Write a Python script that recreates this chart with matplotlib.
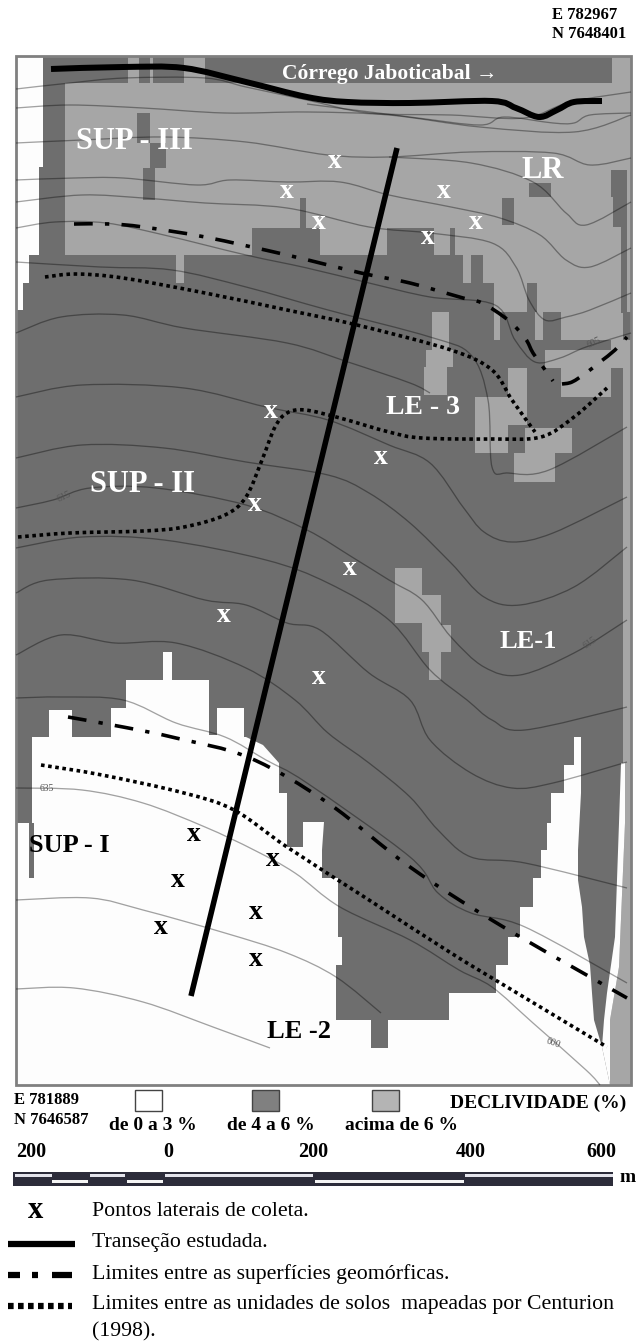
import matplotlib
matplotlib.use('Agg')
import matplotlib.pyplot as plt
from matplotlib.patches import Rectangle, Polygon, PathPatch
from matplotlib.path import Path

plt.rcParams['font.family'] = ['Liberation Serif', 'DejaVu Sans']

frame = (16, 56, 631, 1085)

light_rects = [(65, 83, 631, 255), (612, 57, 631, 83), (176, 255, 184, 283), (463, 255, 471, 283),
               (483, 255, 631, 283), (494, 283, 631, 312), (561, 312, 611, 340), (611, 312, 623, 350),
               (494, 312, 500, 340), (535, 312, 543, 340), (432, 312, 449, 350), (426, 350, 453, 367),
               (424, 367, 447, 395), (545, 350, 623, 368), (561, 368, 611, 397), (475, 397, 508, 453),
               (508, 368, 527, 425), (525, 428, 572, 453), (514, 453, 555, 482), (395, 568, 422, 623),
               (422, 595, 441, 625), (422, 625, 451, 652), (429, 652, 441, 680), (623, 340, 631, 763),
               (128, 57, 139, 83), (150, 57, 153, 83), (184, 57, 205, 83)]
dark_rects = [(137, 113, 150, 143), (150, 143, 166, 168), (143, 168, 155, 200), (300, 198, 306, 228),
              (252, 228, 320, 255), (387, 228, 434, 255), (450, 228, 455, 255), (529, 183, 551, 197),
              (502, 198, 514, 225), (611, 170, 627, 197), (613, 197, 627, 227), (621, 227, 627, 313),
              (527, 283, 537, 312), (510, 312, 535, 340), (543, 312, 560, 340), (476, 260, 482, 283)]
white_left = [(16, 57), (43, 57), (43, 167), (39, 167), (39, 255), (29, 255), (29, 283), (23, 283),
              (23, 310), (18, 310), (16, 310)]
white_low = [(16, 823), (29, 823), (29, 878), (34, 878), (34, 823), (32, 823), (32, 737), (49, 737),
             (49, 710), (72, 710), (72, 737), (111, 737), (111, 708), (126, 708), (126, 680), (163, 680),
             (163, 652), (172, 652), (172, 680), (209, 680), (209, 735), (217, 735), (217, 708), (244, 708),
             (244, 737), (246, 737), (263, 745), (279, 763), (279, 793), (287, 793), (287, 847), (303, 847),
             (303, 822), (324, 822), (322, 850), (322, 878), (338, 878), (338, 937), (342, 937), (342, 965),
             (336, 965), (336, 1020), (371, 1020), (371, 1048), (388, 1048), (388, 1020), (449, 1020),
             (449, 993), (496, 993), (496, 965), (508, 965), (508, 937), (520, 937), (520, 907), (533, 907),
             (533, 878), (541, 878), (541, 850), (547, 850), (547, 823), (551, 823), (551, 793), (564, 793),
             (564, 765), (574, 765), (574, 737), (581, 737), (581, 793), (578, 850), (578, 880), (582, 907),
             (584, 937), (590, 965), (592, 993), (594, 1020), (602, 1047), (610, 1085), (16, 1085)]
white_strip = [(621, 763), (625, 763), (625, 823), (619, 967), (610, 1020), (610, 1085), (610, 1085),
               (602, 1047), (604, 1020), (607, 993), (615, 937), (617, 880), (619, 823)]
light_right = [(625, 763), (631, 763), (631, 1085), (610, 1085), (610, 1020), (619, 967), (625, 823)]

contours = [
    [(16, 89), (70, 83), (125, 78), (205, 78), (246, 87), (307, 100), (369, 113), (451, 115), (524, 118), (570, 102), (631, 92)],
    [(16, 108), (70, 105), (143, 108), (225, 113), (307, 112), (389, 115), (480, 127), (574, 132), (631, 115)],
    [(307, 104), (410, 117), (480, 125), (504, 117), (553, 123), (574, 123), (590, 115), (631, 113)],
    [(16, 143), (82, 140), (164, 137), (246, 142), (328, 155), (389, 157), (471, 152), (553, 153), (590, 165), (631, 158)],
    [(389, 157), (471, 163), (533, 182), (566, 213), (586, 225), (631, 202)],
    [(16, 180), (74, 178), (123, 178), (197, 185), (230, 180), (287, 182), (340, 182), (389, 195), (451, 207), (500, 218), (540, 235), (566, 260), (590, 267), (631, 248)],
    [(16, 202), (82, 195), (143, 198), (205, 203), (287, 208), (369, 227), (430, 233), (492, 243), (516, 267), (529, 300), (545, 320), (566, 317), (590, 310), (631, 293)],
    [(16, 228), (55, 222), (106, 223), (164, 235), (246, 255), (307, 268), (369, 283), (430, 297), (495, 305), (515, 340), (535, 362), (560, 358), (586, 347), (631, 333)],
    [(16, 262), (100, 267), (172, 270), (246, 287), (328, 310), (430, 337), (471, 355), (488, 400), (492, 467), (508, 473), (549, 470), (627, 427)],
    [(16, 333), (61, 317), (123, 315), (184, 328), (287, 343), (348, 362), (410, 383), (430, 393)],
    [(16, 397), (82, 385), (184, 388), (266, 407), (328, 420), (389, 445), (430, 463), (463, 507), (484, 532), (512, 542), (553, 533), (627, 497)],
    [(16, 458), (82, 445), (164, 448), (246, 462), (328, 475), (369, 493), (410, 523), (451, 563), (484, 597), (520, 605), (574, 587), (627, 547)],
    [(16, 508), (53, 500), (90, 488), (156, 488), (246, 505), (307, 530), (352, 557), (389, 580), (422, 600), (451, 637), (484, 667), (520, 675), (574, 653), (627, 620)],
    [(16, 548), (82, 537), (164, 540), (266, 560), (328, 583), (389, 620), (430, 670), (467, 700), (492, 720), (525, 730), (627, 707)],
    [(16, 593), (49, 580), (131, 580), (205, 600), (246, 605), (287, 623), (320, 630), (369, 673), (410, 700), (430, 740), (471, 773), (512, 788), (553, 783), (627, 762)],
    [(16, 655), (61, 635), (115, 643), (176, 643), (246, 668), (295, 700), (328, 733), (369, 763), (410, 797), (438, 830), (471, 857), (525, 863), (627, 888)],
    [(16, 698), (61, 697), (123, 700), (176, 723), (225, 737), (266, 760), (307, 783), (410, 857), (438, 893), (471, 913), (525, 927), (627, 983)],
    [(16, 788), (82, 790), (143, 803), (205, 827), (254, 850), (295, 873), (340, 907), (410, 940), (459, 970), (492, 987), (533, 1023), (586, 1070), (600, 1085)],
    [(16, 900), (90, 898), (143, 910), (225, 933), (287, 953), (336, 977), (381, 1013)],
    [(16, 989), (74, 988), (143, 1002), (213, 1027), (270, 1048)],
]
contour_labels = [('615', 64, 497, 25), ('615', 590, 643, 35), ('635', 47, 788, 0), ('600', 553, 1043, -20), ('605', 594, 343, 25)]

river = [(51, 69), (123, 67), (184, 68), (246, 82), (307, 97), (348, 102), (410, 103), (492, 101), (516, 108), (539, 117), (557, 110), (574, 102), (602, 101)]
transect = [(397, 148), (191, 996)]
surface_upper = [(74, 224), (111, 224), (143, 227), (205, 237), (287, 255), (361, 273), (410, 283), (463, 298), (482, 303), (508, 320), (525, 338), (533, 353), (543, 367), (553, 381)]
surface_upper_b = [(562, 384), (572, 382), (586, 373), (600, 362), (615, 350), (627, 337)]
surface_lower = [(68, 717), (123, 727), (176, 738), (250, 758), (328, 803), (410, 867), (500, 925), (627, 998)]
soil_a = [(45, 277), (76, 274), (123, 278), (205, 293), (287, 310), (357, 325), (451, 350), (492, 370), (512, 400), (535, 432)]
soil_b = [(18, 537), (70, 533), (143, 531), (184, 527), (225, 515), (246, 497), (262, 460), (275, 427), (287, 413), (305, 410), (340, 418), (389, 432), (422, 438), (492, 439), (541, 437), (574, 417), (607, 388)]
soil_c = [(41, 765), (102, 775), (184, 793), (234, 810), (287, 847), (369, 900), (451, 953), (512, 990), (607, 1047)]

points_white = [(335, 162), (287, 192), (319, 223), (444, 192), (476, 223), (428, 238), (271, 412), (255, 505),
                (381, 458), (350, 569), (224, 616), (319, 678)]
points_black = [(194, 835), (178, 881), (161, 928), (273, 860), (256, 913), (256, 960)]

map_labels = [('SUP - III', 76, 141, 'white', 22), ('LR', 521, 170, 'white', 22), ('LE - 3', 386, 407, 'white', 20),
              ('SUP - II', 90, 484, 'white', 22), ('LE-1', 500, 641, 'white', 19), ('SUP - I', 29, 845, 'black', 19),
              ('LE -2', 267, 1032, 'black', 19)]
legend_boxes = [(135, '#ffffff'), (252, '#808080'), (372, '#b4b4b4')]
legend_names = [('de 0 a 3 %', 109), ('de 4 a 6 %', 227), ('acima de 6 %', 345)]
scale_labels = [('200', 31), ('0', 168), ('200', 313), ('400', 471), ('600', 601)]
scale_top = [(15, 52), (90, 125), (165, 313), (465, 613)]
scale_bottom = [(52, 88), (127, 163), (315, 464)]
key_texts = [('Pontos laterais de coleta.', 1212), ('Transeção estudada.', 1243), ('Limites entre as superfícies geomórficas.', 1274),
             ('Limites entre as unidades de solos  mapeadas por Centurion', 1305), ('(1998).', 1332)]

DARK = '#6e6e6e'
LIGHT = '#a6a6a6'
WHITE = '#fdfdfd'


def smooth(pts):
    # catmull-rom through the read points, as bezier segments
    verts = [pts[0]]
    codes = [Path.MOVETO]
    for i in range(len(pts) - 1):
        p0 = pts[max(i - 1, 0)]
        p1 = pts[i]
        p2 = pts[i + 1]
        p3 = pts[min(i + 2, len(pts) - 1)]
        c1 = (p1[0] + (p2[0] - p0[0]) / 6, p1[1] + (p2[1] - p0[1]) / 6)
        c2 = (p2[0] - (p3[0] - p1[0]) / 6, p2[1] - (p3[1] - p1[1]) / 6)
        verts += [c1, c2, p2]
        codes += [Path.CURVE4] * 3
    return Path(verts, codes)


def curve(ax, pts, lw_px, ls='-', color='black', alpha=1, z=5):
    ax.add_patch(PathPatch(smooth(pts), fill=False, edgecolor=color, lw=lw_px * 0.72, ls=ls, alpha=alpha,
                           capstyle='butt', joinstyle='round', zorder=z))


def rect(ax, x0, y0, x1, y1, color, z=1, **kw):
    ax.add_patch(Rectangle((x0, y0), x1 - x0, y1 - y0, facecolor=color, edgecolor='none', zorder=z, **kw))


fig = plt.figure(figsize=(6.38, 13.41), dpi=100)
ax = fig.add_axes([0, 0, 1, 1])
ax.set_xlim(0, 638)
ax.set_ylim(1341, 0)
ax.axis('off')

# slope classes
rect(ax, frame[0], frame[1], frame[2], frame[3], DARK, z=0)
for r in light_rects:
    rect(ax, *r, LIGHT, z=1)
for r in dark_rects:
    rect(ax, *r, DARK, z=2)
ax.add_patch(Polygon(white_left, facecolor=WHITE, edgecolor='none', zorder=3))
ax.add_patch(Polygon(white_low, facecolor=WHITE, edgecolor='none', zorder=3))
ax.add_patch(Polygon(light_right, facecolor=LIGHT, edgecolor='none', zorder=3))
ax.add_patch(Polygon(white_strip, facecolor=WHITE, edgecolor='none', zorder=3))
ax.add_patch(Rectangle((frame[0], frame[1]), frame[2] - frame[0], frame[3] - frame[1], fill=False,
                       edgecolor='#808080', lw=2, zorder=4))

for c in contours:
    curve(ax, c, 1.3, color='black', alpha=0.36, z=4)
for t, x, y, rot in contour_labels:
    ax.text(x, y, t, color='#555555', fontsize=7, rotation=rot, ha='center', va='center', zorder=4)

# limits and transect
curve(ax, river, 6)
ax.plot([p[0] for p in transect], [p[1] for p in transect], color='black', lw=4, solid_capstyle='butt', zorder=5)
dashdot = (0, (5.2, 3.4, 1.2, 3.4))
curve(ax, surface_upper, 3.6, dashdot)
curve(ax, surface_upper_b, 3.6, dashdot)
curve(ax, surface_lower, 3.6, dashdot)
dotted = (0, (1, 1))
for s in [soil_a, soil_b, soil_c]:
    curve(ax, s, 3.6, dotted)

for x, y in points_white:
    ax.text(x, y + 6, 'x', color='white', fontsize=20, fontweight='bold', ha='center', va='baseline', zorder=6)
for x, y in points_black:
    ax.text(x, y + 6, 'x', color='black', fontsize=20, fontweight='bold', ha='center', va='baseline', zorder=6)
for t, x, y, col, size in map_labels:
    ax.text(x, y, t, color=col, fontsize=size, fontweight='bold', ha='left', va='center', zorder=6)
ax.text(282, 74, 'Córrego Jaboticabal →', color='white', fontsize=15.5, fontweight='bold', ha='left', va='center', zorder=6)

# coordinates
ax.text(552, 15, 'E 782967', fontsize=12, fontweight='bold', va='center')
ax.text(552, 34, 'N 7648401', fontsize=12, fontweight='bold', va='center')
ax.text(14, 1100, 'E 781889', fontsize=12, fontweight='bold', va='center')
ax.text(14, 1120, 'N 7646587', fontsize=12, fontweight='bold', va='center')

# slope legend
for x, col in legend_boxes:
    ax.add_patch(Rectangle((x, 1090), 27, 21, facecolor=col, edgecolor='#444444', lw=1))
for t, x in legend_names:
    ax.text(x, 1125, t, fontsize=14, fontweight='bold', va='center')
ax.text(450, 1103, 'DECLIVIDADE (%)', fontsize=14, fontweight='bold', va='center')

# scale bar
for t, x in scale_labels:
    ax.text(x, 1152, t, fontsize=14.5, fontweight='bold', ha='center', va='center')
rect(ax, 13, 1172, 613, 1186, '#2c2c3a')
for x0, x1 in scale_top:
    rect(ax, x0, 1174, x1, 1177, '#e4e4ec', z=2)
for x0, x1 in scale_bottom:
    rect(ax, x0, 1180, x1, 1183, '#f4f4f4', z=2)
ax.text(620, 1177, 'm', fontsize=14, fontweight='bold', va='center')

# line key
ax.text(35, 1218, 'x', fontsize=22, fontweight='bold', ha='center', va='baseline')
ax.plot([8, 75], [1244, 1244], color='black', lw=4.5, solid_capstyle='butt')
for x0, x1 in [(8, 20), (32, 38), (52, 72)]:
    ax.plot([x0, x1], [1275, 1275], color='black', lw=4.5, solid_capstyle='butt')
ax.plot([8, 72], [1306, 1306], color='black', lw=4.5, ls=(0, (0.9, 0.7)), dash_capstyle='butt')
for t, y in key_texts:
    ax.text(92, y, t, fontsize=15.7, va='center')

fig.savefig('out.png', dpi=100)
